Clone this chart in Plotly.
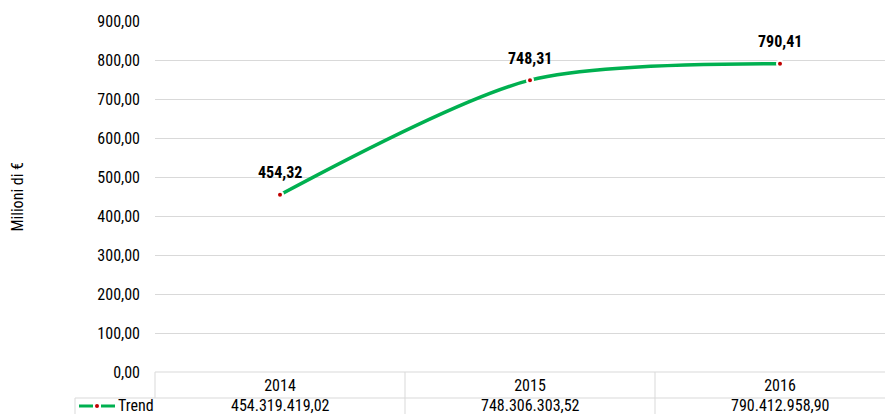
import plotly.graph_objects as go

years = ["2014", "2015", "2016"]
values_eur = [454319419.02, 748306303.52, 790412958.90]
series_name = "Trend"
y_ticks = [0, 100, 200, 300, 400, 500, 600, 700, 800, 900]

def it_fmt(v):
    s = f"{v:,.2f}"
    return s.replace(",", "X").replace(".", ",").replace("X", ".")

values_mln = [v / 1e6 for v in values_eur]
labels = [it_fmt(v) for v in values_mln]

OFF = 8  # default body margin of the page
W, H = 893 - OFF, 414 - OFF
ML, MR, MT, MB = 155 - OFF, 0, 21 - OFF, 414 - 372
PW, PH = W - ML - MR, H - MT - MB
FONT = "Liberation Sans Narrow, Roboto Condensed, Arial Narrow, Roboto, sans-serif"
FS = 16
GRID = "#D9D9D9"
GREEN = "#00B050"
RED = "#C00000"

fig = go.Figure()
fig.add_trace(go.Scatter(
    x=years, y=values_mln, mode="lines+markers",
    line=dict(color=GREEN, width=3.5, shape="spline", smoothing=0.8),
    marker=dict(color=RED, size=6, line=dict(color="white", width=2)),
    showlegend=False, cliponaxis=False,
))

# page pixel -> paper
def px_x(p):
    return (p - OFF - ML) / PW
def px_y(p):
    return (H - MB - (p - OFF)) / PH

shapes = []
line = dict(color=GRID, width=1)
shapes.append(dict(type="line", xref="paper", yref="paper", x0=0, x1=1, y0=0, y1=0, line=line))
shapes.append(dict(type="line", xref="paper", yref="paper", x0=px_x(75), x1=1, y0=px_y(398), y1=px_y(398), line=line))
shapes.append(dict(type="line", xref="paper", yref="paper", x0=0, x1=0, y0=0, y1=px_y(398), line=line))
shapes.append(dict(type="line", xref="paper", yref="paper", x0=px_x(75), x1=px_x(75), y0=px_y(398), y1=px_y(430), line=line))
for b in [0.5, 1.5]:
    shapes.append(dict(type="line", xref="x", yref="paper", x0=b, x1=b, y0=0, y1=px_y(430), line=line))
# legend key
shapes.append(dict(type="line", xref="paper", yref="paper", x0=px_x(79), x1=px_x(93), y0=px_y(406), y1=px_y(406), line=dict(color=GREEN, width=3)))
shapes.append(dict(type="line", xref="paper", yref="paper", x0=px_x(101), x1=px_x(115), y0=px_y(406), y1=px_y(406), line=dict(color=GREEN, width=3)))
shapes.append(dict(type="circle", xref="paper", yref="paper", x0=px_x(95), x1=px_x(99), y0=px_y(404), y1=px_y(408), fillcolor=RED, line=dict(color=RED, width=0)))

annotations = [
    dict(text=series_name, xref="paper", yref="paper", x=px_x(116), y=px_y(405), xanchor="left", yanchor="middle",
         showarrow=False, font=dict(family=FONT, size=FS, color="#000000")),
    dict(text="Milioni di €", xref="paper", yref="paper", x=px_x(17), y=0.5, textangle=-90, xanchor="center",
         yanchor="middle", showarrow=False, font=dict(family=FONT, size=FS, color="#000000")),
]
# category axes place annotations by category index
for i, v in enumerate(values_eur):
    annotations.append(dict(text=it_fmt(v), xref="x", yref="paper", x=i, y=px_y(405), xanchor="center",
                            yanchor="middle", showarrow=False, font=dict(family=FONT, size=FS, color="#000000")))
for i, (v, lab) in enumerate(zip(values_mln, labels)):
    annotations.append(dict(text=lab, xref="x", yref="y", x=i, y=v, yshift=22, xanchor="center",
                            yanchor="middle", showarrow=False,
                            font=dict(family=FONT, size=FS, color="#000000", weight="bold")))

fig.update_layout(
    width=W, height=H, margin=dict(l=ML, r=MR, t=MT, b=MB),
    plot_bgcolor="white", paper_bgcolor="white",
    separators=",.",
    font=dict(family=FONT, size=FS, color="#000000"),
    xaxis=dict(type="category", range=[-0.5, -0.5 + PW / 250], showgrid=False, showline=False, zeroline=False,
               ticks="", ticklabelstandoff=2, tickfont=dict(family=FONT, size=FS)),
    yaxis=dict(range=[0, 900], tickvals=y_ticks, tickformat=".2f", showgrid=True, gridcolor=GRID, gridwidth=1,
               zeroline=False, showline=False, ticks="", ticklabelstandoff=14, tickfont=dict(family=FONT, size=FS)),
    shapes=shapes, annotations=annotations,
)
fig.write_html("out.html")
